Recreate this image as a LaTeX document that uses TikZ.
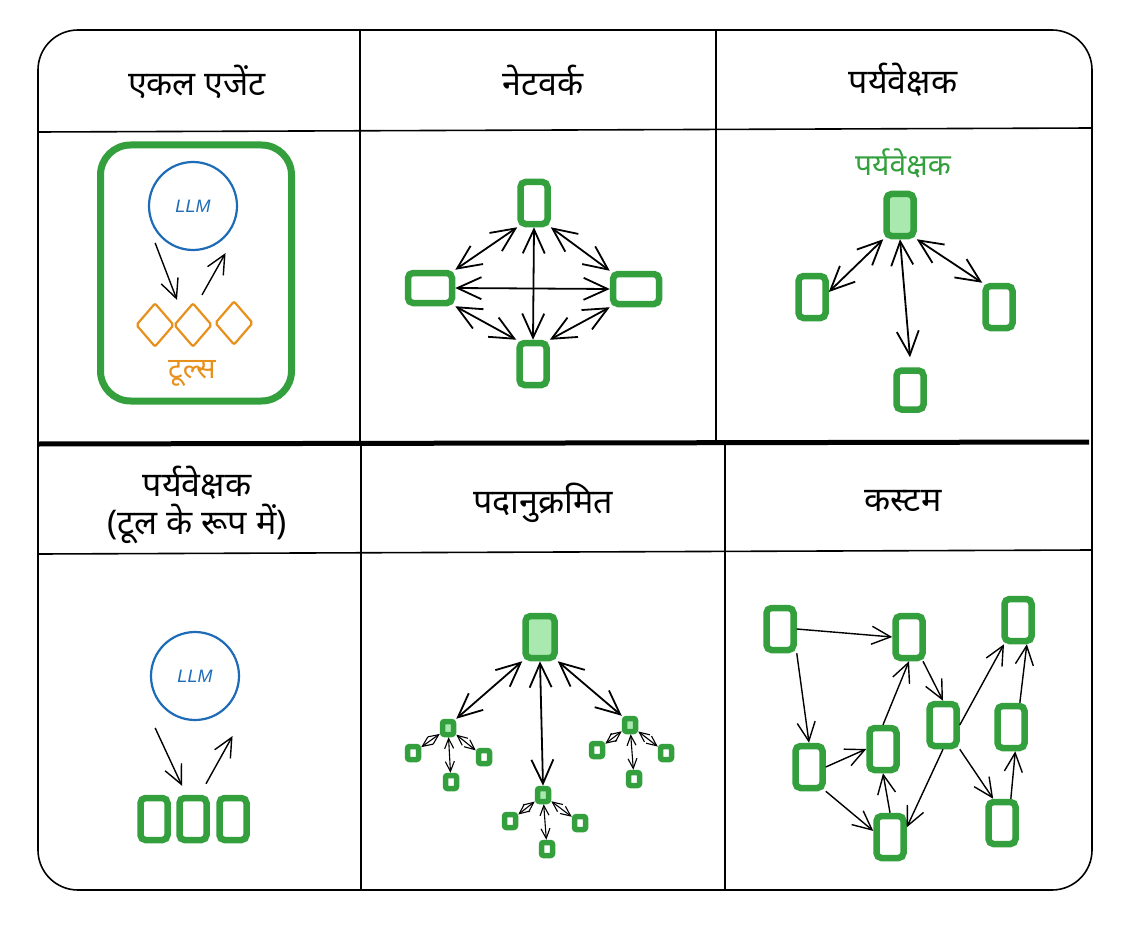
\documentclass[tikz,border=0pt]{standalone}
\usepackage{fontspec}
\newfontfamily\deva[Script=Devanagari]{Noto Sans}
\newfontfamily\hand{Liberation Sans}
\usetikzlibrary{arrows.meta,shapes.geometric}
\definecolor{gr}{HTML}{33A03D}
\definecolor{lgr}{HTML}{A9E8AE}
\definecolor{bl}{HTML}{1E6CB8}
\definecolor{org}{HTML}{E8901C}
\begin{document}
\begin{tikzpicture}[x=1pt,y=-1pt,
  gridline/.style={line width=1.6pt,black},
  head/.style={font=\deva\fontsize{34}{38}\selectfont,align=center,inner sep=0pt},
  vbox/.style={draw=gr,line width=6.5pt,rounded corners=5pt,minimum width=27pt,minimum height=42pt,inner sep=0pt},
  hbox/.style={draw=gr,line width=6.5pt,rounded corners=5pt,minimum width=44pt,minimum height=30pt,inner sep=0pt},
  sbox/.style={draw=gr,line width=5.5pt,rounded corners=2pt,minimum width=11pt,minimum height=13pt,inner sep=0pt},
  llm/.style={circle,draw=bl,line width=2.2pt,minimum size=88pt,text=bl,font=\hand\itshape\fontsize{18}{20}\selectfont},
  tool/.style={diamond,draw=org,line width=2.2pt,rounded corners=2pt,minimum width=38pt,minimum height=44pt,inner sep=0pt},
  arr/.style={line width=1.4pt,-{Straight Barb[length=19pt,width=18pt]}},
  dbl/.style={line width=1.8pt,{Straight Barb[length=24pt,width=22pt]}-{Straight Barb[length=24pt,width=22pt]}},
  sdbl/.style={line width=1.1pt,{Straight Barb[length=10pt,width=9pt]}-{Straight Barb[length=10pt,width=9pt]}}
]
\useasboundingbox (0,0) rectangle (1129,928);
\fill[white] (0,0) rectangle (1129,928);

% frame and grid
\draw[gridline,rounded corners=40pt] (38,30) rectangle (1092,890);
\draw[gridline] (38,132) -- (1092,128);
\draw[gridline] (38,554) -- (1092,550);
\draw[gridline] (360,30) -- (360,444);
\draw[gridline] (716,30) -- (716,444);
\draw[gridline] (361,444) -- (361,890);
\draw[gridline] (725,444) -- (725,890);
\draw[line width=5pt,black] (38,444) -- (1089,442);

% headers
\node[head] (h1t) at (197,82) {एकल एजेंट};
\node[head] (h2t) at (543,80) {नेटवर्क};
\node[head] (h3t) at (903,80) {पर्यवेक्षक};
\node[head] (h4t) at (197,505) {पर्यवेक्षक\\(टूल के रूप में)};
\node[head] (h5t) at (543,503) {पदानुक्रमित};
\node[head] (h6t) at (903,501) {कस्टम};

% ---- panel 1: single agent
\node[draw=gr,line width=7pt,rounded corners=30pt,minimum width=191pt,minimum height=256pt] (agent) at (196,273) {};
\node[llm] (llmA) at (193,206) {LLM};
\node[tool] (d1) at (155,325) {};
\node[tool] (d2) at (193,325) {};
\node[tool] (d3) at (234,323) {};
\node[text=org,font=\deva\fontsize{29}{32}\selectfont] (tl) at (192,373) {टूल्स};
\draw[arr] ([xshift=-12pt]llmA.235) -- ([xshift=-16pt,yshift=2pt]d2.north);
\draw[arr] ([xshift=9pt,yshift=7pt]d2.north) -- ([xshift=10pt,yshift=-8pt]llmA.300);

% ---- panel 2: network
\node[vbox] (nt) at (534,203) {};
\node[hbox] (nl) at (430,288) {};
\node[hbox,minimum width=46pt] (nr) at (636,289) {};
\node[vbox] (nb) at (533,364) {};
\draw[dbl] (nl.east) -- (nr.west);
\draw[dbl] (nt.south) -- (nb.north);
\draw[dbl] (nl.north east) -- (nt.south west);
\draw[dbl] (nl.south east) -- (nb.north west);
\draw[dbl] (nr.north west) -- (nt.south east);
\draw[dbl] (nr.south west) -- (nb.north east);

% ---- panel 3: supervisor
\node[text=gr,font=\deva\fontsize{30}{34}\selectfont] (suplab) at (903,163) {पर्यवेक्षक};
\node[vbox,fill=lgr] (sup) at (900,215) {};
\node[vbox] (s1) at (812,297) {};
\node[vbox] (s2) at (999,307) {};
\node[vbox,minimum height=39pt] (s3) at (910,390) {};
\draw[dbl] (sup.south west) -- ([yshift=5pt]s1.east);
\draw[dbl] (sup.south) -- ([yshift=10pt]s3.north);
\draw[dbl] (sup.south east) -- (s2.north west);

% ---- panel 4: supervisor as tool
\node[llm] (llmB) at (195,676) {LLM};
\node[vbox] (t1) at (154,819) {};
\node[vbox] (t2) at (193,819) {};
\node[vbox] (t3) at (233,819) {};
\draw[arr] ([xshift=-14pt,yshift=-15pt]llmB.235) -- ([xshift=-11pt,yshift=9pt]t2.north);
\draw[arr] ([xshift=13pt,yshift=11pt]t2.north) -- ([xshift=15pt,yshift=-21pt]llmB.300);

% ---- panel 5: hierarchical
\node[vbox,fill=lgr,minimum width=29pt] (r0) at (540,637) {};
\node[sbox,fill=lgr] (m1) at (448,728) {};
\node[sbox,fill=lgr] (m2) at (543,795) {};
\node[sbox,fill=lgr] (m3) at (630,725) {};
\node[sbox] (l11) at (413,753) {};
\node[sbox] (l12) at (451,782) {};
\node[sbox] (l13) at (484,757) {};
\node[sbox] (l21) at (510,821) {};
\node[sbox] (l22) at (547,849) {};
\node[sbox] (l23) at (580,823) {};
\node[sbox] (l31) at (597,750) {};
\node[sbox] (l32) at (634,779) {};
\node[sbox] (l33) at (666,753) {};
\draw[dbl] (r0.south west) -- (m1.north east);
\draw[dbl] (r0.south) -- (m2.north);
\draw[dbl] (r0.south east) -- (m3.north west);
\foreach \m/\a/\b/\c in {m1/l11/l12/l13,m2/l21/l22/l23,m3/l31/l32/l33}{
  \draw[sdbl] (\m) -- (\a);
  \draw[sdbl] (\m) -- (\b);
  \draw[sdbl] (\m) -- (\c);
}

% ---- panel 6: custom
\node[vbox] (cA) at (780,629) {};
\node[vbox] (cB) at (909,637) {};
\node[vbox] (cC) at (1018,620) {};
\node[vbox] (cD) at (943,725) {};
\node[vbox] (cE) at (1011,727) {};
\node[vbox] (cF) at (809,767) {};
\node[vbox] (cG) at (883,749) {};
\node[vbox] (cH) at (890,837) {};
\node[vbox] (cI) at (1002,823) {};
\draw[arr] (cA.east) -- (cB.west);
\draw[arr] (cA.south east) -- (cF.north);
\draw[arr] (cF.east) -- (cG.west);
\draw[arr] (cF.south east) -- (cH.160);
\draw[arr] (cH.north) -- (cG.south);
\draw[arr] (cG.north) -- (cB.south);
\draw[arr] (cB.-60) -- (cD.north);
\draw[arr] (cD.east) -- (cC.-120);
\draw[arr] (cD.south) -- (cH.30);
\draw[arr] (cD.south east) -- (cI.110);
\draw[arr] (cI.70) -- (cE.-80);
\draw[arr] (cE.70) -- (cC.-70);
\end{tikzpicture}
\end{document}
